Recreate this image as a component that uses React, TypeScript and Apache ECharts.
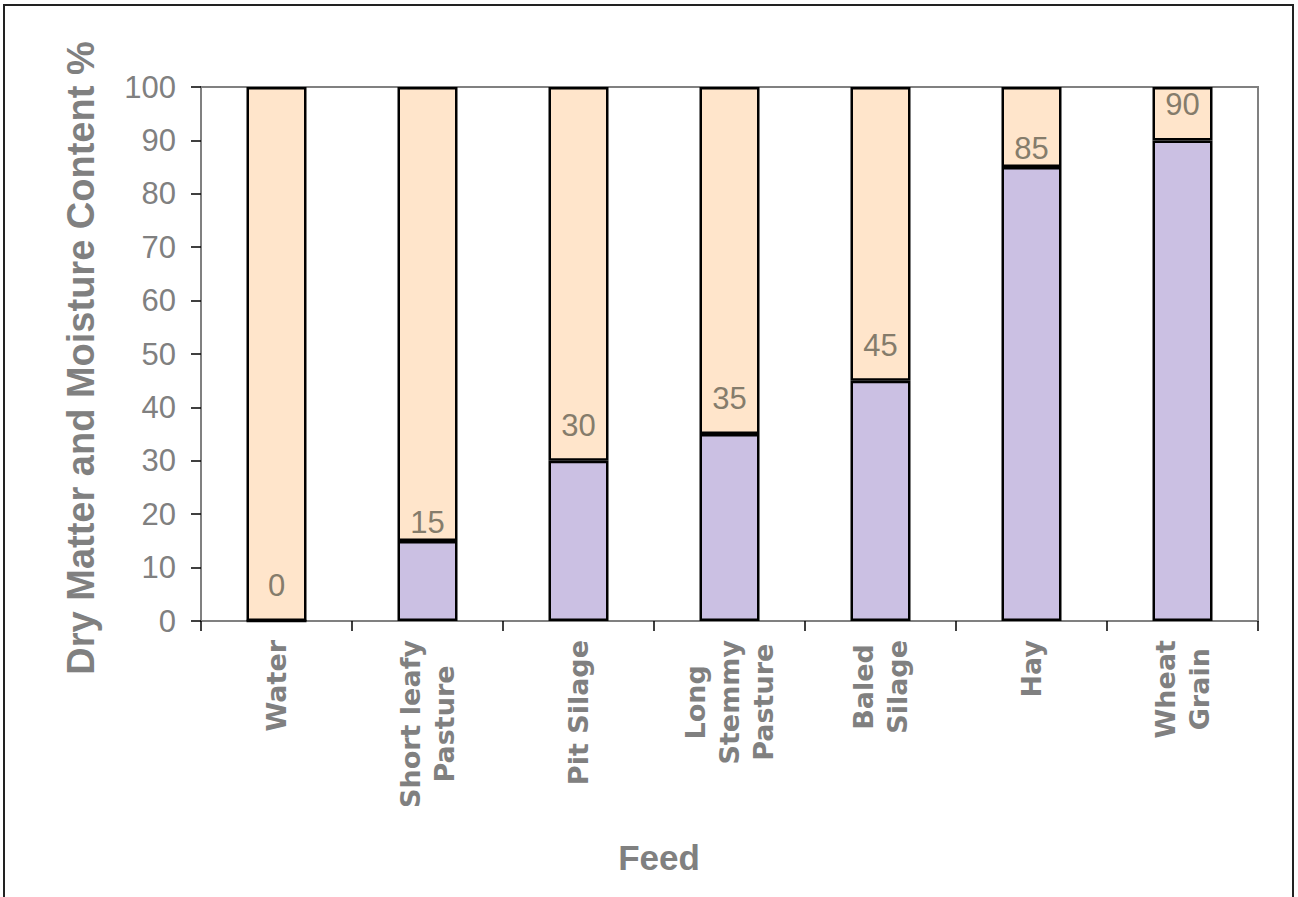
import React, { useEffect, useRef } from "react";
import * as echarts from "echarts";

const categories = [
  "Water",
  "Short leafy\nPasture",
  "Pit Silage",
  "Long\nStemmy\nPasture",
  "Baled\nSilage",
  "Hay",
  "Wheat\nGrain",
];
const dryMatter = [0, 15, 30, 35, 45, 85, 90];
const moisture = [100, 85, 70, 65, 55, 15, 10];
const yTicks = { min: 0, max: 100, interval: 10 };

// label placement tweaks (style only), keyed by category
const labelDistance: Record<string, number> = {
  "Short leafy\nPasture": 3,
  Hay: 3,
};

const GREY = "#808080";

export default function App() {
  const ref = useRef<HTMLDivElement>(null);
  useEffect(() => {
    if (!ref.current) return;
    const chart = echarts.init(ref.current, undefined, { renderer: "svg" });
    const moistureData = moisture.map((v, i) => {
      const d = labelDistance[categories[i]];
      return d === undefined ? v : { value: v, label: { distance: d } };
    });
    chart.setOption({
      animation: false,
      backgroundColor: "#ffffff",
      grid: {
        left: 201,
        right: 40,
        top: 87,
        bottom: 276,
        show: true,
        borderColor: GREY,
        borderWidth: 2,
        backgroundColor: "transparent",
      },
      graphic: [
        {
          type: "rect",
          shape: { x: 4, y: 5, width: 1289, height: 1000 },
          style: { fill: "none", stroke: "#222", lineWidth: 2 },
          silent: true,
          z: 100,
        },
        {
          type: "text",
          style: {
            text: "Feed",
            x: 659,
            y: 857,
            align: "center",
            verticalAlign: "middle",
            fontFamily: "Liberation Sans, Arial, sans-serif",
            fontWeight: "bold",
            fontSize: 35,
            fill: GREY,
          },
        },
      ],
      xAxis: {
        type: "category",
        data: categories,
        axisLine: { show: true, lineStyle: { color: GREY, width: 2 } },
        axisTick: { show: true, length: 10, lineStyle: { color: "#000", width: 1.5 } },
        axisLabel: {
          rotate: 90,
          margin: 19,
          interval: 0,
          formatter: (v: string) =>
            v
              .split("\n")
              .map((l) => `{c|${l}}`)
              .join("\n"),
          rich: {
            c: {
              fontFamily: "DejaVu Sans, Verdana, sans-serif",
              fontWeight: "bold",
              fontSize: 27,
              lineHeight: 34,
              color: GREY,
              align: "center",
            },
          },
        },
        splitLine: { show: false },
      },
      yAxis: {
        type: "value",
        min: yTicks.min,
        max: yTicks.max,
        interval: yTicks.interval,
        name: "Dry Matter and Moisture Content %",
        nameLocation: "middle",
        nameGap: 101,
        nameTextStyle: {
          fontFamily: "Liberation Sans, Arial, sans-serif",
          fontWeight: "bold",
          fontSize: 38,
          color: GREY,
          padding: [0, 8, 0, 0],
        },
        axisLine: { show: true, lineStyle: { color: GREY, width: 2 } },
        axisTick: { show: true, length: 10, lineStyle: { color: "#000", width: 1.5 } },
        axisLabel: {
          margin: 25,
          fontFamily: "Liberation Sans, Arial, sans-serif",
          fontSize: 31,
          color: GREY,
        },
        splitLine: { show: false },
      },
      series: [
        {
          name: "Dry Matter",
          type: "bar",
          stack: "total",
          barWidth: 60,
          data: dryMatter,
          itemStyle: { color: "#CBC0E3", borderColor: "#000", borderWidth: 2.5 },
        },
        {
          name: "Moisture",
          type: "bar",
          stack: "total",
          barWidth: 60,
          data: moistureData,
          itemStyle: { color: "#FFE5CB", borderColor: "#000", borderWidth: 2.5 },
          label: {
            show: true,
            position: "insideBottom",
            distance: 20,
            formatter: (p: any) => String(dryMatter[p.dataIndex]),
            fontFamily: "Liberation Sans, Arial, sans-serif",
            fontSize: 31,
            color: "#857C6B",
          },
        },
      ],
    });
    return () => chart.dispose();
  }, []);
  return (
    <div
      ref={ref}
      style={{ position: "fixed", left: 0, top: 0, width: 1298, height: 897 }}
    />
  );
}
